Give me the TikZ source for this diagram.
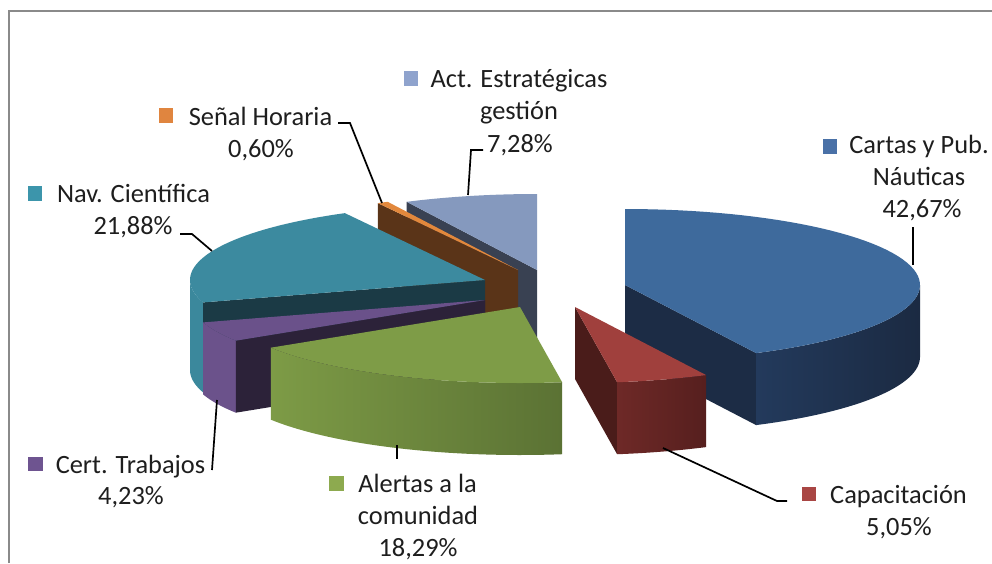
\documentclass[tikz,border=0pt]{standalone}
\usepackage{fontspec}
\setmainfont{Carlito}
\definecolor{actT}{HTML}{8599BE}
\definecolor{actS}{HTML}{394152}
\definecolor{senT}{HTML}{E2883C}
\definecolor{senS}{HTML}{5A3418}
\definecolor{navT}{HTML}{3C8A9F}
\definecolor{navS}{HTML}{1B3A45}
\definecolor{navW}{HTML}{3B889C}
\definecolor{cerT}{HTML}{6A518A}
\definecolor{cerS}{HTML}{2C2239}
\definecolor{cerW}{HTML}{6B528B}
\definecolor{aleT}{HTML}{7E9C47}
\definecolor{aleWL}{HTML}{7D9B46}
\definecolor{aleWR}{HTML}{5B7234}
\definecolor{capT}{HTML}{A0403D}
\definecolor{capS}{HTML}{4A1C1A}
\definecolor{capWL}{HTML}{6E2927}
\definecolor{capWR}{HTML}{561F1E}
\definecolor{carT}{HTML}{3E6A9C}
\definecolor{carS}{HTML}{1C2C45}
\definecolor{carWL}{HTML}{233A5C}
\definecolor{carWR}{HTML}{1B2A42}
\definecolor{carL}{HTML}{4A71A7}
\definecolor{capL}{HTML}{A94644}
\definecolor{aleL}{HTML}{8DAA4F}
\definecolor{cerL}{HTML}{6E5490}
\definecolor{navL}{HTML}{3C95AB}
\definecolor{senL}{HTML}{E0853F}
\definecolor{actL}{HTML}{8FA3CD}
\definecolor{txt}{HTML}{1E1E1E}
\definecolor{framec}{HTML}{8A8A8A}
% top face: cx cy a1 a2 colour
\newcommand\TopFace[5]{%
  \fill[#5] (#1,#2) -- plot[domain=#3:#4,samples=60,variable=\t] ({#1+295*cos(\t)},{#2-76*sin(\t)}) -- cycle;}
% outer wall: cx cy b1 b2 leftcolour rightcolour height
\newcommand\OuterWall[7]{%
  \shade[left color=#5,right color=#6] plot[domain=#3:#4,samples=40,variable=\t] ({#1+295*cos(\t)},{#2-76*sin(\t)}) -- plot[domain=#4:#3,samples=40,variable=\t] ({#1+295*cos(\t)},{#2+#7-76*sin(\t)}) -- cycle;}
% radial cut face: cx cy angle colour
\newcommand\RadialFace[4]{%
  \fill[#4] (#1,#2) -- ({#1+295*cos(#3)},{#2-76*sin(#3)}) -- ({#1+295*cos(#3)},{#2+72-76*sin(#3)}) -- (#1,{#2+72}) -- cycle;}
\begin{document}
\begin{tikzpicture}[x=1pt,y=-1pt,
  lbl/.style={anchor=base,inner sep=0pt,font=\fontsize{26.4}{32}\selectfont,text=txt},
  legsq/.style={minimum width=14.5pt,minimum height=14.5pt,inner sep=0pt,draw=none},
  leader/.style={draw=black,line width=1.7pt}]
\useasboundingbox (0,0) rectangle (992,563);
\fill[white] (0,0) rectangle (992,563);
\draw[framec,line width=2pt] (9,563) -- (9,11) -- (992,11);

% Act. Estrategicas
\RadialFace{537}{270}{116.21}{actS}
\TopFace{537}{270}{90}{116.21}{actT}
% Senal Horaria
\RadialFace{518}{270}{118.37}{senS}
\TopFace{518}{270}{116.21}{118.37}{senT}
% Nav. Cientifica
\OuterWall{485}{280}{180}{197.14}{navW}{navW}{90}
\RadialFace{485}{280}{197.14}{navS}
\TopFace{485}{280}{118.37}{197.14}{navT}
% Cert. Trabajos
\OuterWall{485}{300}{197.14}{212.36}{cerW}{cerW}{72}
\RadialFace{485}{300}{212.36}{cerS}
\TopFace{485}{300}{197.14}{212.36}{cerT}
% Alertas
\OuterWall{520}{307}{212.36}{278.21}{aleWL}{aleWR}{72}
\TopFace{520}{307}{212.36}{278.21}{aleT}
% Cartas
\RadialFace{625}{285}{296.39}{carS}
\OuterWall{625}{285}{296.39}{360}{carWL}{carWR}{72}
\TopFace{625}{285}{296.39}{450}{carT}
% Capacitacion
\RadialFace{575}{307}{278.21}{capS}
\OuterWall{575}{307}{278.21}{296.39}{capWL}{capWR}{72}
\TopFace{575}{307}{278.21}{296.39}{capT}

% label anchor points on slices
\coordinate (pAct) at (468,195);
\coordinate (pSen) at (382,203);
\coordinate (pNav) at (212,251);
\coordinate (pCar) at (913,265);
\coordinate (pCap) at (663,448);
\coordinate (pAle) at (397,445);
\coordinate (pCer) at (217,400);
\coordinate (kAct) at (471,150);
\coordinate (eAct) at (483,150);
\coordinate (kSen) at (350,123);
\coordinate (eSen) at (338,123);
\coordinate (kNav) at (192,234);
\coordinate (eNav) at (180,234);
\coordinate (eCar) at (913,227);
\coordinate (kCap) at (777,501);
\coordinate (eCap) at (787,501);
\coordinate (eAle) at (397,459);
\coordinate (eCer) at (212,470);

\draw[leader] (pAct) -- (kAct) -- (eAct);
\draw[leader] (pSen) -- (kSen) -- (eSen);
\draw[leader] (pNav) -- (kNav) -- (eNav);
\draw[leader] (pCar) -- (eCar);
\draw[leader] (pCap) -- (kCap) -- (eCap);
\draw[leader] (pAle) -- (eAle);
\draw[leader] (pCer) -- (eCer);

% labels
\node[legsq,fill=actL] (sqAct) at (411,78.5) {};
\node[lbl] (tAct1) at (519,87) {Act. Estratégicas};
\node[lbl] (tAct2) at (519,119.5) {gestión};
\node[lbl] (tAct3) at (520,152) {7,28\%};

\node[legsq,fill=senL] (sqSen) at (166,115.5) {};
\node[lbl] (tSen1) at (260.5,125) {Señal Horaria};
\node[lbl] (tSen2) at (261,157) {0,60\%};

\node[legsq,fill=navL] (sqNav) at (35,193.5) {};
\node[lbl] (tNav1) at (133.5,202) {Nav. Científica};
\node[lbl] (tNav2) at (133,234) {21,88\%};

\node[legsq,fill=carL] (sqCar) at (830,146.5) {};
\node[lbl] (tCar1) at (919,153) {Cartas y Pub.};
\node[lbl] (tCar2) at (919,185) {Náuticas};
\node[lbl] (tCar3) at (922,217) {42,67\%};

\node[legsq,fill=capL] (sqCap) at (809,494) {};
\node[lbl] (tCap1) at (898.5,503) {Capacitación};
\node[lbl] (tCap2) at (899,535) {5,05\%};

\node[legsq,fill=aleL] (sqAle) at (336.5,483.5) {};
\node[lbl] (tAle1) at (417.5,492.5) {Alertas a la};
\node[lbl] (tAle2) at (418,524) {comunidad};
\node[lbl] (tAle3) at (418,556) {18,29\%};

\node[legsq,fill=cerL] (sqCer) at (35.5,464) {};
\node[lbl] (tCer1) at (130.5,473) {Cert. Trabajos};
\node[lbl] (tCer2) at (131,504) {4,23\%};
\end{tikzpicture}
\end{document}
